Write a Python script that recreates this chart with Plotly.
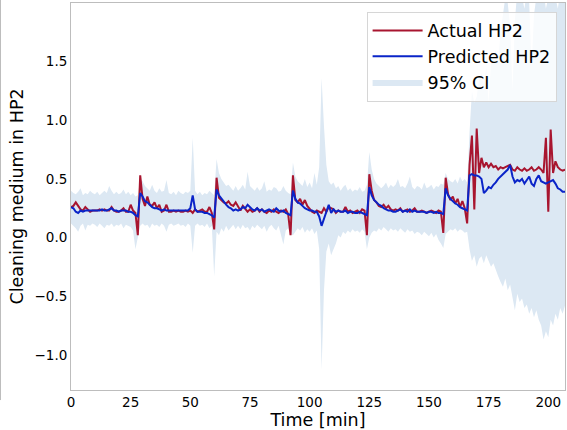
import plotly.graph_objects as go

# Time axis (minutes)
time_min = list(range(208))

actual_hp2 = [
    0.26, 0.27, 0.30, 0.27, 0.24, 0.23, 0.26, 0.24, 0.22, 0.23,
    0.23, 0.23, 0.24, 0.23, 0.24, 0.23, 0.23, 0.26, 0.23, 0.22,
    0.22, 0.23, 0.25, 0.22, 0.22, 0.28, 0.23, 0.21, 0.02, 0.53,
    0.33, 0.27, 0.35, 0.28, 0.27, 0.30, 0.25, 0.28, 0.22, 0.23,
    0.28, 0.22, 0.22, 0.23, 0.22, 0.23, 0.22, 0.22, 0.23, 0.22,
    0.23, 0.21, 0.24, 0.22, 0.23, 0.24, 0.22, 0.22, 0.26, 0.21,
    0.07, 0.51, 0.34, 0.32, 0.30, 0.29, 0.31, 0.28, 0.27, 0.30,
    0.26, 0.23, 0.27, 0.24, 0.22, 0.24, 0.22, 0.23, 0.25, 0.22,
    0.24, 0.22, 0.21, 0.23, 0.22, 0.24, 0.22, 0.21, 0.23, 0.22,
    0.24, 0.20, 0.02, 0.53, 0.32, 0.30, 0.33, 0.28, 0.32, 0.27,
    0.24, 0.22, 0.21, 0.23, 0.22, 0.21, 0.25, 0.22, 0.26, 0.25,
    0.24, 0.21, 0.23, 0.22, 0.22, 0.26, 0.22, 0.23, 0.21, 0.22,
    0.23, 0.21, 0.24, 0.23, 0.02, 0.54, 0.40, 0.32, 0.30, 0.27,
    0.26, 0.28, 0.25, 0.27, 0.24, 0.23, 0.24, 0.23, 0.25, 0.22,
    0.23, 0.24, 0.22, 0.23, 0.25, 0.22, 0.22, 0.23, 0.22, 0.21,
    0.22, 0.23, 0.22, 0.21, 0.23, 0.22, 0.04, 0.51, 0.37, 0.32,
    0.35, 0.29, 0.33, 0.26, 0.31, 0.25, 0.12, 0.62, 0.87, 0.24,
    0.93, 0.55, 0.68, 0.60, 0.64, 0.60, 0.63, 0.60, 0.61, 0.58,
    0.60, 0.59, 0.60, 0.61, 0.62, 0.58, 0.57, 0.60, 0.58, 0.57,
    0.59, 0.57, 0.58, 0.60, 0.57, 0.58, 0.60, 0.58, 0.55, 0.85,
    0.22, 0.92, 0.55, 0.65, 0.60, 0.58, 0.57, 0.58,
]

predicted_hp2 = [
    0.26, 0.25, 0.22, 0.21, 0.23, 0.22, 0.23, 0.23, 0.23, 0.23,
    0.23, 0.23, 0.23, 0.24, 0.23, 0.23, 0.24, 0.25, 0.23, 0.23,
    0.22, 0.23, 0.23, 0.23, 0.22, 0.22, 0.21, 0.19, 0.18, 0.38,
    0.35, 0.31, 0.30, 0.28, 0.26, 0.25, 0.25, 0.24, 0.23, 0.24,
    0.23, 0.23, 0.23, 0.23, 0.23, 0.23, 0.23, 0.23, 0.23, 0.23,
    0.25, 0.36, 0.24, 0.22, 0.22, 0.22, 0.21, 0.21, 0.20, 0.19,
    0.17, 0.41, 0.36, 0.33, 0.30, 0.28, 0.26, 0.25, 0.23, 0.24,
    0.23, 0.24, 0.26, 0.25, 0.28, 0.26, 0.24, 0.23, 0.25, 0.23,
    0.24, 0.22, 0.23, 0.24, 0.23, 0.22, 0.25, 0.23, 0.22, 0.23,
    0.21, 0.20, 0.19, 0.40, 0.33, 0.30, 0.29, 0.27, 0.25, 0.24,
    0.23, 0.23, 0.22, 0.22, 0.18, 0.10, 0.16, 0.22, 0.28, 0.21,
    0.24, 0.22, 0.23, 0.22, 0.22, 0.23, 0.21, 0.22, 0.22, 0.21,
    0.21, 0.22, 0.21, 0.20, 0.19, 0.43, 0.36, 0.32, 0.30, 0.28,
    0.27, 0.25, 0.24, 0.23, 0.23, 0.22, 0.22, 0.23, 0.24, 0.22,
    0.23, 0.22, 0.24, 0.22, 0.23, 0.22, 0.22, 0.22, 0.22, 0.21,
    0.22, 0.22, 0.21, 0.22, 0.21, 0.21, 0.20, 0.42, 0.36, 0.33,
    0.31, 0.29, 0.28, 0.26, 0.25, 0.24, 0.23, 0.53, 0.54, 0.53,
    0.53, 0.52, 0.50, 0.38, 0.40, 0.43, 0.42, 0.45, 0.47, 0.50,
    0.52, 0.54, 0.56, 0.58, 0.62, 0.52, 0.47, 0.49, 0.48, 0.50,
    0.46, 0.49, 0.52, 0.46, 0.44, 0.50, 0.53, 0.48, 0.47, 0.46,
    0.47, 0.48, 0.49, 0.46, 0.42, 0.41, 0.39, 0.39,
]

ci_upper = [
    0.40, 0.38, 0.37, 0.39, 0.42, 0.36, 0.38, 0.37, 0.40, 0.38,
    0.37, 0.39, 0.36, 0.38, 0.40, 0.38, 0.44, 0.40, 0.37, 0.39,
    0.37, 0.38, 0.41, 0.37, 0.39, 0.36, 0.38, 0.35, 0.36, 0.50,
    0.48, 0.44, 0.42, 0.40, 0.45, 0.40, 0.38, 0.42, 0.39, 0.40,
    0.49, 0.38, 0.37, 0.39, 0.36, 0.40, 0.38, 0.37, 0.39, 0.38,
    0.40, 0.85, 0.40, 0.37, 0.39, 0.36, 0.38, 0.37, 0.40, 0.38,
    0.36, 0.67, 0.55, 0.50, 0.47, 0.44, 0.45, 0.42, 0.40, 0.44,
    0.40, 0.42, 0.45, 0.41, 0.56, 0.44, 0.42, 0.40, 0.43, 0.40,
    0.42, 0.48, 0.39, 0.41, 0.40, 0.43, 0.42, 0.39, 0.40, 0.44,
    0.40, 0.38, 0.37, 0.64, 0.52, 0.48, 0.46, 0.44, 0.50, 0.43,
    0.47, 0.42, 0.55, 0.45, 0.60, 1.36, 0.95, 0.62, 0.48, 0.45,
    0.47, 0.42, 0.44, 0.40, 0.43, 0.45, 0.40, 0.42, 0.39, 0.41,
    0.40, 0.43, 0.39, 0.40, 0.45, 0.73, 0.58, 0.50, 0.46, 0.44,
    0.42, 0.44, 0.47, 0.42, 0.45, 0.43, 0.45, 0.50, 0.43, 0.44,
    0.42, 0.46, 0.52, 0.43, 0.41, 0.44, 0.43, 0.41, 0.47, 0.42,
    0.43, 0.45, 0.41, 0.44, 0.43, 0.46, 0.45, 0.55, 0.50, 0.48,
    0.47, 0.50, 0.46, 0.52, 0.48, 0.50, 0.47, 0.90, 1.25, 1.15,
    1.20, 1.35, 1.40, 1.30, 1.45, 1.15, 1.50, 1.55, 1.60, 1.50,
    1.75, 1.90, 2.05, 2.00, 1.80, 1.25, 1.85, 2.10, 2.00, 2.05,
    1.95, 2.10, 2.00, 1.45, 1.90, 2.05, 2.10, 2.00, 2.10, 1.95,
    2.05, 2.10, 2.00, 2.05, 1.95, 2.10, 2.05, 2.00,
]

ci_lower = [
    0.12, 0.10, 0.08, 0.05, 0.10, 0.12, 0.06, 0.11, 0.10, 0.12,
    0.11, 0.09, 0.12, 0.10, 0.08, 0.11, 0.10, 0.12, 0.09, 0.11,
    0.10, 0.12, 0.08, 0.11, 0.10, 0.09, 0.06, -0.10, 0.00, 0.10,
    0.12, 0.10, 0.11, 0.08, 0.12, 0.10, 0.11, 0.09, 0.12, 0.10,
    0.05, 0.11, 0.12, 0.10, 0.11, 0.12, 0.10, 0.11, 0.09, 0.12,
    0.10, -0.13, 0.10, 0.12, 0.10, 0.11, 0.09, 0.12, 0.08, 0.10,
    -0.33, 0.05, 0.02, 0.08, 0.05, 0.10, 0.06, 0.09, 0.11, 0.07,
    0.10, 0.07, 0.11, 0.08, 0.09, 0.06, 0.10, 0.08, 0.11, 0.09,
    0.07, 0.10, 0.05, 0.09, 0.11, 0.08, 0.06, 0.10, 0.02, -0.06,
    0.06, 0.08, 0.03, 0.02, 0.05, 0.08, 0.06, 0.09, 0.04, 0.07,
    0.05, 0.08, 0.03, 0.06, -0.10, -1.13, -0.45, -0.12, -0.05, -0.15,
    -0.10, -0.05, 0.02, 0.00, 0.05, 0.03, 0.06, 0.04, 0.07, 0.05,
    0.06, 0.04, 0.07, 0.05, -0.10, 0.00, 0.04, 0.06, 0.05, 0.08,
    0.06, 0.09, 0.07, 0.05, 0.08, 0.06, 0.07, 0.05, 0.08, 0.06,
    0.04, 0.07, 0.05, 0.06, 0.03, 0.05, 0.04, 0.02, 0.05, 0.03,
    0.01, 0.04, 0.00, 0.03, -0.02, -0.05, -0.09, 0.03, 0.05, 0.07,
    0.06, 0.08, 0.05, 0.07, 0.06, 0.04, 0.05, -0.10, -0.20, -0.15,
    -0.25, -0.18, -0.16, -0.22, -0.15, -0.20, -0.25, -0.22, -0.28, -0.33,
    -0.38, -0.42, -0.35, -0.45, -0.40, -0.50, -0.62, -0.48, -0.55, -0.52,
    -0.60, -0.57, -0.65, -0.60, -0.68, -0.62, -0.70, -0.75, -0.87, -0.80,
    -0.85, -0.70, -0.75, -0.65, -0.70, -0.60, -0.65, -0.58,
]

x_tick_vals = [0, 25, 50, 75, 100, 125, 150, 175, 200]
y_tick_vals = [-1.0, -0.5, 0.0, 0.5, 1.0, 1.5]
y_tick_text = ["\u22121.0", "\u22120.5", "0.0", "0.5", "1.0", "1.5"]

RED = "#a8152f"
BLUE = "#0a24c8"
BAND = "rgb(220,232,243)"
FONT = "DejaVu Sans"

fig = go.Figure()

fig.add_trace(go.Scatter(
    x=time_min, y=ci_lower, mode="lines", line=dict(width=0, color=BAND),
    showlegend=False, hoverinfo="skip",
))
fig.add_trace(go.Scatter(
    x=time_min, y=ci_upper, mode="lines", line=dict(width=0, color=BAND),
    fill="tonexty", fillcolor=BAND, name="95% CI", legendrank=3,
))
fig.add_trace(go.Scatter(
    x=time_min, y=actual_hp2, mode="lines", line=dict(color=RED, width=2),
    name="Actual HP2", legendrank=1,
))
fig.add_trace(go.Scatter(
    x=time_min, y=predicted_hp2, mode="lines", line=dict(color=BLUE, width=2),
    name="Predicted HP2", legendrank=2,
))

fig.update_layout(
    width=567, height=430,
    margin=dict(l=71, r=2, t=3, b=40),
    paper_bgcolor="white", plot_bgcolor="white",
    font=dict(family=FONT, size=13.5, color="#000000"),
    showlegend=True,
    legend=dict(
        x=0.983, y=0.978, xanchor="right", yanchor="top",
        bgcolor="rgba(255,255,255,0.8)", bordercolor="#d6d6d6", borderwidth=1,
        font=dict(family=FONT, size=17.5, color="#000000"),
        traceorder="normal", itemwidth=50, tracegroupgap=0,
    ),
    xaxis=dict(
        range=[0, 207], tickmode="array", tickvals=x_tick_vals,
        showgrid=False, zeroline=False, ticks="",
        showline=True, mirror=True, linecolor="#bdbdbd", linewidth=1,
        title=dict(text="Time [min]", font=dict(family=FONT, size=17.5), standoff=4),
        tickfont=dict(family=FONT, size=13.5),
    ),
    yaxis=dict(
        range=[-1.3, 2.0], tickmode="array", tickvals=y_tick_vals, ticktext=y_tick_text,
        showgrid=False, zeroline=False, ticks="",
        showline=True, mirror=True, linecolor="#bdbdbd", linewidth=1,
        title=dict(text="Cleaning medium in HP2", font=dict(family=FONT, size=17.5), standoff=6),
        tickfont=dict(family=FONT, size=13.5),
    ),
    shapes=[dict(
        type="line", xref="paper", yref="paper",
        x0=-0.1427, x1=-0.1427, y0=-0.026, y1=1.01,
        line=dict(color="#bdbdbd", width=1),
    )],
)

fig.write_html("out.html")
